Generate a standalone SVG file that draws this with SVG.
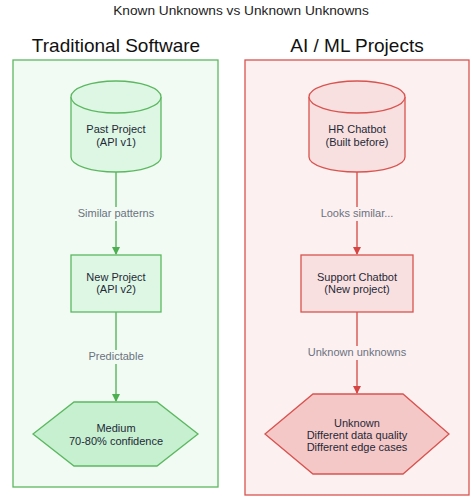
<svg xmlns="http://www.w3.org/2000/svg" width="476" height="501" viewBox="0 0 476 501">
<style>
text{font-family:"Liberation Sans",Arial,sans-serif;fill:#1f2937;text-anchor:middle}
.title{font-size:13.7px;fill:#222}
.ct{font-size:19px;fill:#111}
.nt{font-size:11px}
.el{font-size:11px;fill:#6b7280}
.gbox{fill:#f1fbf3;stroke:#5cb860;stroke-width:1.3}
.rbox{fill:#fcf0f0;stroke:#d9534f;stroke-width:1.3}
.gn{fill:#def7e4;stroke:#5cb860;stroke-width:1.3}
.rn{fill:#f9e0e0;stroke:#d9534f;stroke-width:1.3}
.gh{fill:#c6f0d0;stroke:#5cb860;stroke-width:1.3}
.rh{fill:#f5c8c8;stroke:#d9534f;stroke-width:1.3}
.ge{stroke:#4caf50;stroke-width:1.3;fill:none}
.re{stroke:#d64541;stroke-width:1.3;fill:none}
.lbg{stroke:none}
</style>
<defs>
<marker id="ag" markerWidth="8" markerHeight="8" refX="7" refY="4" orient="auto" markerUnits="userSpaceOnUse"><path d="M0,0 L8,4 L0,8 Z" fill="#4caf50"/></marker>
<marker id="ar" markerWidth="8" markerHeight="8" refX="7" refY="4" orient="auto" markerUnits="userSpaceOnUse"><path d="M0,0 L8,4 L0,8 Z" fill="#d64541"/></marker>
</defs>
<rect width="476" height="501" fill="#ffffff"/>
<text class="title" x="241" y="14.5">Known Unknowns vs Unknown Unknowns</text>

<g id="cluster-traditional">
<rect class="gbox" x="13" y="60" width="205" height="427"/>
<text class="ct" x="116" y="52">Traditional Software</text>
</g>
<g id="cluster-aiml">
<rect class="rbox" x="245" y="60" width="224" height="435"/>
<text class="ct" x="357" y="52">AI / ML Projects</text>
</g>

<g id="connectors">
<line class="ge" x1="116" y1="172" x2="116" y2="254" marker-end="url(#ag)"/>
<rect class="lbg" x="76" y="207" width="80" height="14" fill="#f1fbf3"/>
<text class="el" x="116" y="217">Similar patterns</text>
<line class="ge" x1="116" y1="312" x2="116" y2="401" marker-end="url(#ag)"/>
<rect class="lbg" x="86" y="350" width="60" height="14" fill="#f1fbf3"/>
<text class="el" x="116" y="360">Predictable</text>
<line class="re" x1="357" y1="172" x2="357" y2="254" marker-end="url(#ar)"/>
<rect class="lbg" x="316" y="207" width="82" height="14" fill="#fcf0f0"/>
<text class="el" x="357" y="217">Looks similar...</text>
<line class="re" x1="357" y1="312" x2="357" y2="393" marker-end="url(#ar)"/>
<rect class="lbg" x="306" y="346" width="102" height="14" fill="#fcf0f0"/>
<text class="el" x="357" y="356">Unknown unknowns</text>
</g>

<g id="past-project">
<path class="gn" d="M71,97 A45,16 0 0 1 161,97 L161,157 A45,15 0 0 1 71,157 Z"/>
<path class="gn" d="M71,97 A45,16 0 0 0 161,97" fill="none"/>
<text class="nt" x="116" y="133">Past Project</text>
<text class="nt" x="116" y="146">(API v1)</text>
</g>
<g id="new-project">
<rect class="gn" x="71" y="255" width="90" height="57"/>
<text class="nt" x="116" y="281">New Project</text>
<text class="nt" x="116" y="293">(API v2)</text>
</g>
<g id="medium">
<polygon class="gh" points="33,434 74,402 157,402 198,434 157,466 74,466"/>
<text class="nt" x="116" y="432">Medium</text>
<text class="nt" x="116" y="445">70-80% confidence</text>
</g>

<g id="hr-chatbot">
<path class="rn" d="M309,97 A48,16 0 0 1 405,97 L405,157 A48,15 0 0 1 309,157 Z"/>
<path class="rn" d="M309,97 A48,16 0 0 0 405,97" fill="none"/>
<text class="nt" x="357" y="133">HR Chatbot</text>
<text class="nt" x="357" y="146">(Built before)</text>
</g>
<g id="support-chatbot">
<rect class="rn" x="301" y="255" width="112" height="57"/>
<text class="nt" x="357" y="281">Support Chatbot</text>
<text class="nt" x="357" y="293">(New project)</text>
</g>
<g id="unknown">
<polygon class="rh" points="265,434 313,394 403,394 449,434 403,474 313,474"/>
<text class="nt" x="357" y="427">Unknown</text>
<text class="nt" x="357" y="439">Different data quality</text>
<text class="nt" x="357" y="451">Different edge cases</text>
</g>
</svg>
